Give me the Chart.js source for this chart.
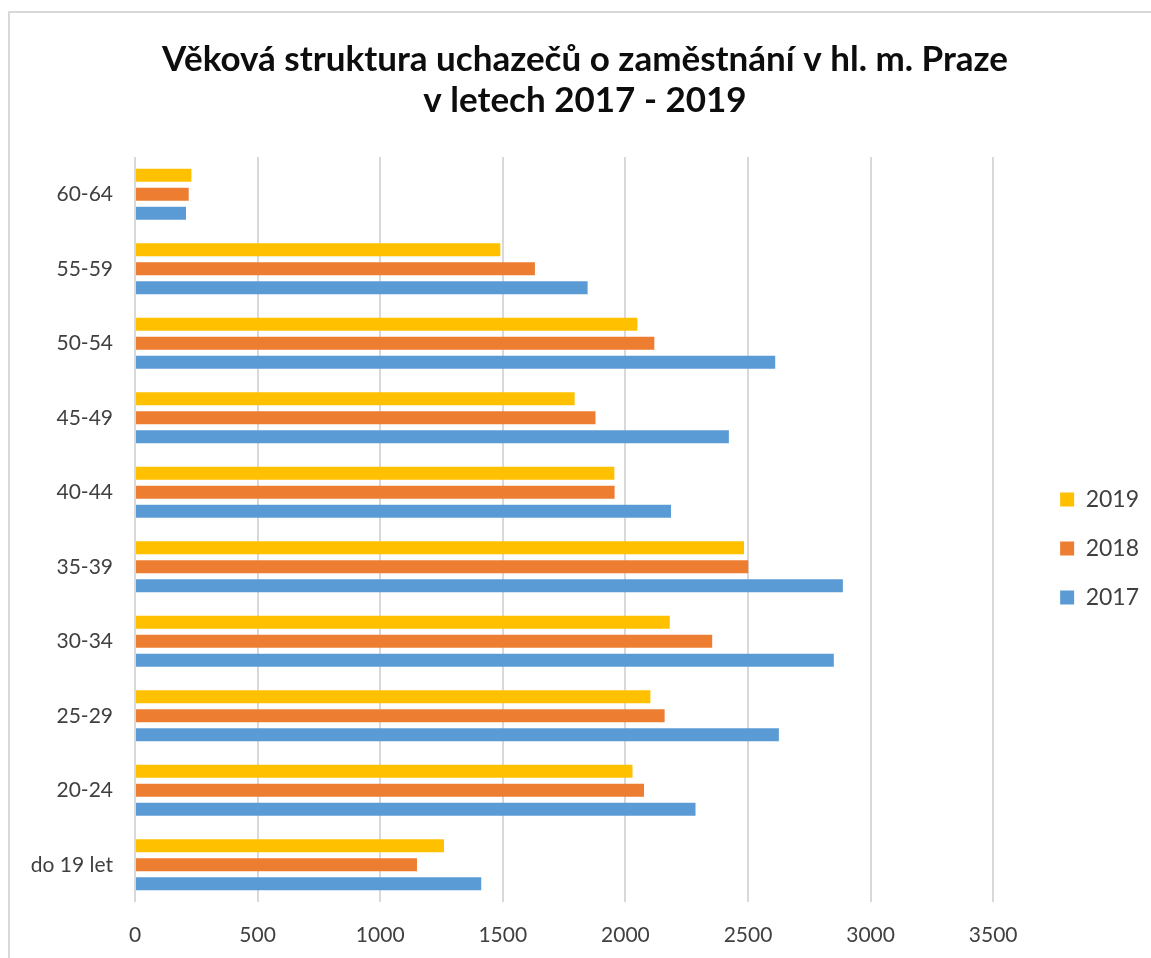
<!DOCTYPE html>
<html>
<head>
<meta charset="utf-8">
<script src="https://cdn.jsdelivr.net/npm/chart.js@4/dist/chart.umd.min.js"></script>
<style>
  html, body { margin: 0; padding: 0; background: #ffffff; }
  #wrap { position: relative; width: 1151px; height: 958px; overflow: hidden; }
  #frame { position: absolute; left: 8px; top: 11px; width: 1200px; height: 1000px;
           border-left: 2px solid #d9d9d9; border-top: 2px solid #d9d9d9; }
  canvas { position: absolute; left: 0; top: 0; }
</style>
</head>
<body>
<div id="wrap">
  <div id="frame"></div>
  <canvas id="c" width="1151" height="958"></canvas>
</div>
<script>
const titleLines = ['Věková struktura uchazečů o zaměstnání v hl. m. Praze', 'v letech 2017 - 2019'];
const categories = ['do 19 let', '20-24', '25-29', '30-34', '35-39', '40-44', '45-49', '50-54', '55-59', '60-64'];
const seriesNames = ['2019', '2018', '2017'];
const values2019 = [1260, 2029, 2102, 2181, 2484, 1955, 1793, 2049, 1490, 230];
const values2018 = [1150, 2076, 2160, 2354, 2501, 1956, 1878, 2118, 1631, 219];
const values2017 = [1412, 2286, 2626, 2850, 2887, 2186, 2422, 2611, 1846, 208];
const xTickMax = 3500;
const xTickStep = 500;
const xAxisEnd = 3667;

const colors = ['#FFC000', '#ED7D31', '#5B9BD5'];
const seriesValues = [values2019, values2018, values2017];

const textColor = '#404040';
const font = 'Lato, "Open Sans", sans-serif';

new Chart(document.getElementById('c'), {
  type: 'bar',
  data: {
    labels: categories,
    datasets: seriesNames.map((name, i) => ({
      label: name,
      data: seriesValues[i],
      backgroundColor: colors[i],
      borderWidth: 0,
      categoryPercentage: 0.765,
      barPercentage: 0.68
    }))
  },
  options: {
    indexAxis: 'y',
    responsive: false,
    animation: false,
    devicePixelRatio: 1,
    layout: { padding: { left: 21, right: 2, top: 26, bottom: 9 } },
    plugins: {
      title: {
        display: true,
        text: titleLines,
        color: '#0d0d0d',
        font: { family: font, size: 35, weight: 'bold', lineHeight: 41 / 35 },
        padding: { top: 13, bottom: 36 }
      },
      legend: {
        display: true,
        position: 'right',
        title: { display: true, text: ' ', font: { size: 12, lineHeight: 1 }, padding: { top: 110, bottom: 0 } },
        labels: {
          color: textColor,
          font: { family: font, size: 23 },
          boxWidth: 14,
          boxHeight: 14,
          padding: 26
        }
      },
      tooltip: { enabled: false }
    },
    scales: {
      x: {
        type: 'linear',
        min: 0,
        max: xTickMax,
        afterBuildTicks: (s) => { s.max = xAxisEnd; },
        afterFit: (s) => { s.height = 47; },
        ticks: {
          stepSize: xTickStep,
          color: textColor,
          font: { family: font, size: 21 },
          padding: 21,
          callback: (v) => String(v)
        },
        grid: { color: '#d9d9d9', lineWidth: 2, drawTicks: false },
        border: { display: false }
      },
      y: {
        type: 'category',
        reverse: true,
        afterFit: (s) => { s.width = 114; },
        ticks: {
          color: textColor,
          font: { family: font, size: 21 },
          padding: 22
        },
        grid: { display: false, drawTicks: false },
        border: { display: false }
      }
    }
  }
});
</script>
</body>
</html>
